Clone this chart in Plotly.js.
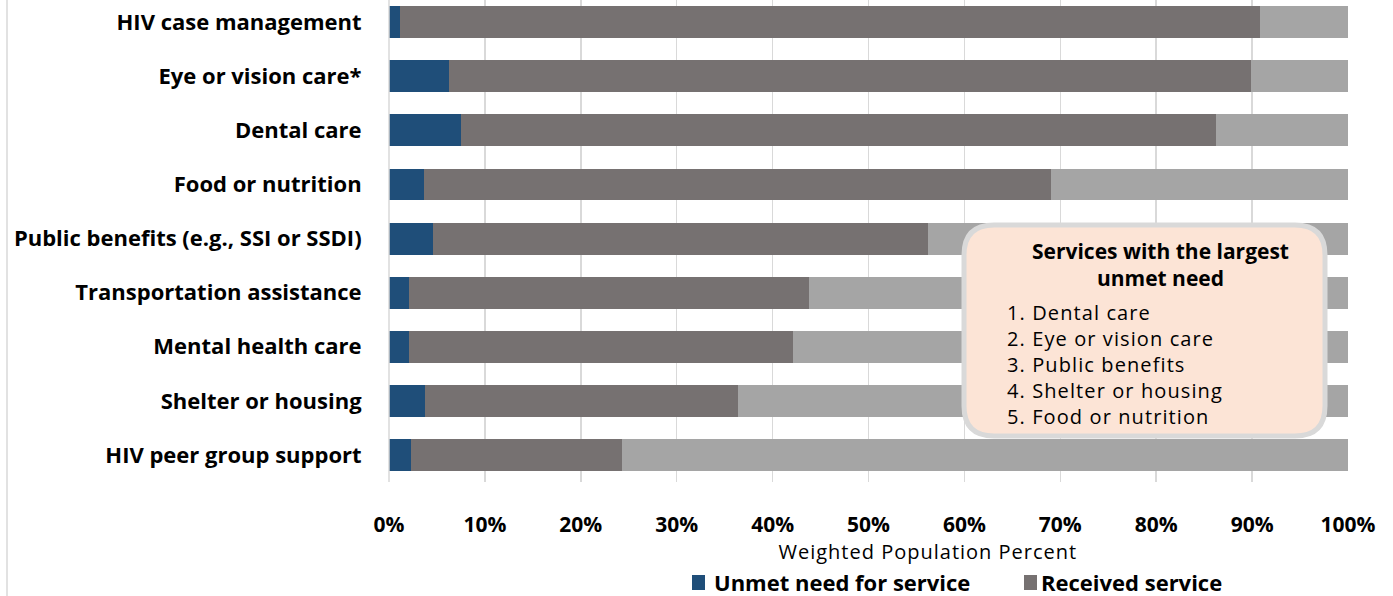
<!DOCTYPE html>
<html><head><meta charset="utf-8">
<script src="https://cdn.plot.ly/plotly-3.0.1.min.js"></script>
<style>
html,body{margin:0;padding:0;background:#fff}#chart{width:1393px;height:596px}
.annotation[data-index="0"] text{letter-spacing:1px}
.annotation[data-index="2"] text{letter-spacing:1.1px}
</style>
</head><body><div id="chart"></div>
<script>
const categories = ["HIV case management","Eye or vision care*","Dental care","Food or nutrition","Public benefits (e.g., SSI or SSDI)","Transportation assistance","Mental health care","Shelter or housing","HIV peer group support"];
const unmet = [1.1, 6.3, 7.5, 3.6, 4.6, 2.1, 2.1, 3.8, 2.3];
const received = [89.7, 83.6, 78.7, 65.4, 51.6, 41.7, 40.0, 32.6, 22.0];
const noNeed = [9.2, 10.1, 13.8, 31.0, 43.8, 56.2, 57.9, 63.6, 75.7];
const seriesNames = ["Unmet need for service", "Received service", "No need"];
const seriesColors = ["#1f4e79", "#767171", "#a5a5a5"];
const xTickVals = [0,10,20,30,40,50,60,70,80,90,100];
const xTickText = ["0%","10%","20%","30%","40%","50%","60%","70%","80%","90%","100%"];
const boxTitle = ["Services with the largest", "unmet need"];
const boxItems = ["1. Dental care","2. Eye or vision care","3. Public benefits","4. Shelter or housing","5. Food or nutrition"];

const W = 1393, H = 596, L = 389, R = 1348, T = 0, B = 482;
const px = x => (x - L) / (R - L);
const py = y => (B - y) / (B - T);
const FONT = "'Open Sans', Lato, sans-serif";

const traces = [unmet, received, noNeed].map((vals, i) => ({
  type:'bar', orientation:'h', name:seriesNames[i], y:categories, x:vals, marker:{color:seriesColors[i]}, showlegend:false
}));

function roundRect(x0,y0,x1,y1,r){
  const X=v=>px(v).toFixed(5), Y=v=>py(v).toFixed(5);
  return `M${X(x0+r)},${Y(y0)} L${X(x1-r)},${Y(y0)} Q${X(x1)},${Y(y0)} ${X(x1)},${Y(y0+r)} L${X(x1)},${Y(y1-r)} Q${X(x1)},${Y(y1)} ${X(x1-r)},${Y(y1)} L${X(x0+r)},${Y(y1)} Q${X(x0)},${Y(y1)} ${X(x0)},${Y(y1-r)} L${X(x0)},${Y(y0+r)} Q${X(x0)},${Y(y0)} ${X(x0+r)},${Y(y0)} Z`;
}

const annotations = [
  {xref:'paper', yref:'paper', x:px(928), y:py(551), text:'Weighted Population Percent', showarrow:false, xanchor:'center', yanchor:'middle', font:{family:FONT, size:20, color:'#000'}},
  {xref:'paper', yref:'paper', x:px(1160), y:py(264), text:'<b>'+boxTitle.join('<br>')+'</b>', align:'center', showarrow:false, xanchor:'center', yanchor:'middle', font:{family:FONT, size:21, color:'#000'}},
  {xref:'paper', yref:'paper', x:px(1005), y:py(364), text:boxItems.join('<br>'), align:'left', showarrow:false, xanchor:'left', yanchor:'middle', font:{family:FONT, size:20, color:'#000'}},
  {xref:'paper', yref:'paper', x:px(712), y:py(582), text:'<b>'+seriesNames[0]+'</b>', showarrow:false, xanchor:'left', yanchor:'middle', font:{family:FONT, size:22, color:'#000'}},
  {xref:'paper', yref:'paper', x:px(1039), y:py(582), text:'<b>'+seriesNames[1]+'</b>', showarrow:false, xanchor:'left', yanchor:'middle', font:{family:FONT, size:22, color:'#000'}}
];

const layout = {
  width:W, height:H,
  margin:{l:L, r:W-R, t:T, b:H-B, pad:0},
  paper_bgcolor:'#fff', plot_bgcolor:'#fff',
  barmode:'stack', bargap:0.41,
  font:{family:FONT, color:'#000'},
  xaxis:{range:[0,100], tickvals:xTickVals, ticktext:xTickText, showgrid:true, gridcolor:'#d9d9d9', gridwidth:1.5, zeroline:false, showline:false,
         ticks:'outside', ticklen:24, tickcolor:'rgba(0,0,0,0)', tickfont:{family:FONT, size:21, color:'#000', weight:'bold'}, fixedrange:true},
  yaxis:{type:'category', categoryorder:'array', categoryarray:categories, range:[8.5,-0.41], showgrid:false, zeroline:false, showline:false,
         ticks:'outside', ticklen:22, tickcolor:'rgba(0,0,0,0)', tickfont:{family:FONT, size:22, color:'#000', weight:'bold'}, fixedrange:true},
  showlegend:false,
  shapes:[
    {type:'line', xref:'paper', yref:'paper', x0:px(389), x1:px(389), y0:0, y1:py(0), line:{color:'#d9d9d9', width:1.5}, layer:'above'},
    {type:'line', xref:'paper', yref:'paper', x0:px(7), x1:px(7), y0:py(0), y1:py(596), line:{color:'#d9d9d9', width:1.5}},
    {type:'path', xref:'paper', yref:'paper', path:roundRect(964,225,1325,436,30), fillcolor:'#fce4d6', line:{color:'#d9d9d9', width:5}, layer:'above'},
    {type:'rect', xref:'paper', yref:'paper', x0:px(692), x1:px(705), y0:py(590), y1:py(575), fillcolor:seriesColors[0], line:{width:0}},
    {type:'rect', xref:'paper', yref:'paper', x0:px(1024), x1:px(1037), y0:py(590), y1:py(575), fillcolor:seriesColors[1], line:{width:0}}
  ],
  annotations:annotations
};
Plotly.newPlot('chart', traces, layout, {displayModeBar:false, staticPlot:true});
</script></body></html>
